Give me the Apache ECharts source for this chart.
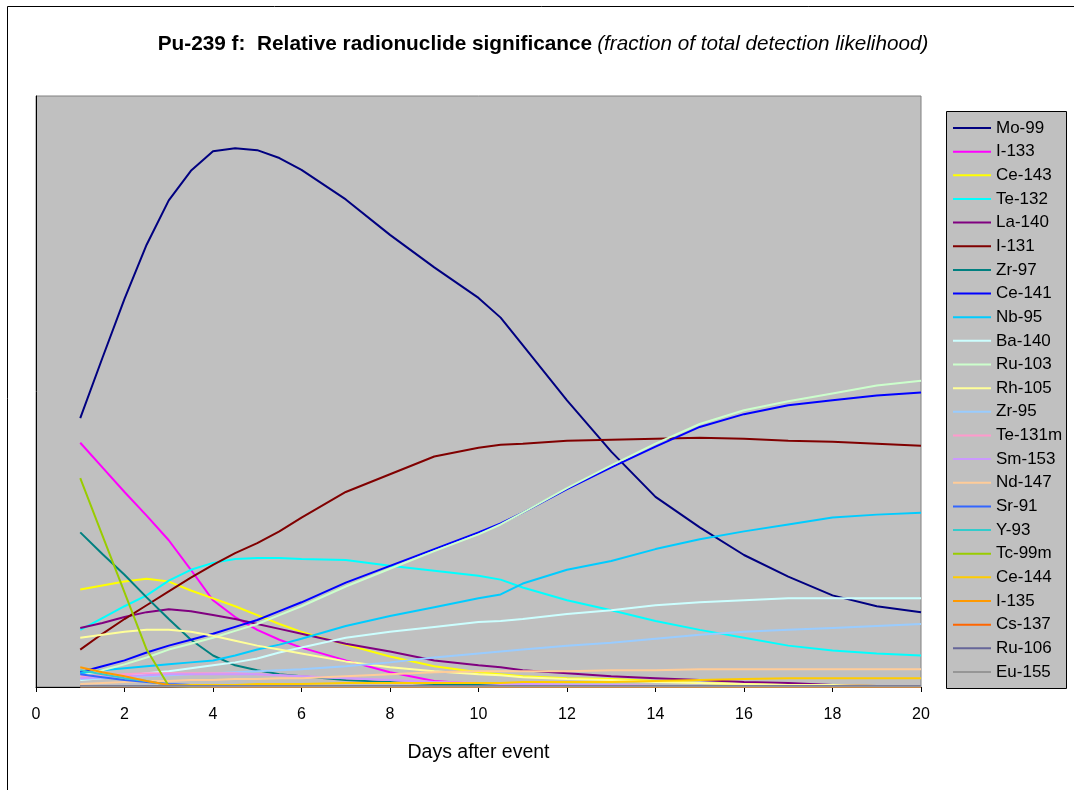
<!DOCTYPE html>
<html><head><meta charset="utf-8">
<script src="https://cdn.jsdelivr.net/npm/echarts@6/dist/echarts.min.js"></script>
<style>html,body{margin:0;padding:0;background:#fff}#c{width:1074px;height:790px}</style>
</head><body><div id="c"></div>
<script>
const DAYS = [1,1.5,2,2.5,3,3.5,4,4.5,5,5.5,6,7,8,9,10,10.5,11,12,13,14,15,16,17,18,19,20];
const X_TICKS = [0,2,4,6,8,10,12,14,16,18,20];
const NAMES = ['Mo-99','I-133','Ce-143','Te-132','La-140','I-131','Zr-97','Ce-141','Nb-95','Ba-140','Ru-103','Rh-105','Zr-95','Te-131m','Sm-153','Nd-147','Sr-91','Y-93','Tc-99m','Ce-144','I-135','Cs-137','Ru-106','Eu-155'];
const mo99 = [0.273,0.334,0.394,0.449,0.494,0.524,0.544,0.547,0.545,0.537,0.525,0.495,0.459,0.426,0.395,0.375,0.347,0.291,0.239,0.193,0.162,0.134,0.112,0.093,0.082,0.076];
const i133 = [0.248,0.223,0.198,0.174,0.149,0.119,0.088,0.071,0.058,0.048,0.040,0.027,0.015,0.006,0.003,0.003,0.002,0.002,0.001,0.001,0.001,0.001,0.001,0.001,0.001,0.001];
const ce143 = [0.099,0.103,0.107,0.110,0.107,0.098,0.090,0.082,0.073,0.064,0.056,0.043,0.031,0.021,0.015,0.013,0.011,0.009,0.008,0.006,0.004,0.003,0.002,0.002,0.001,0.001];
const te132 = [0.058,0.070,0.082,0.093,0.108,0.119,0.126,0.130,0.131,0.131,0.130,0.129,0.123,0.118,0.113,0.109,0.101,0.088,0.078,0.067,0.058,0.050,0.042,0.037,0.034,0.032];
const la140 = [0.060,0.065,0.071,0.076,0.079,0.077,0.073,0.069,0.064,0.059,0.054,0.044,0.036,0.027,0.022,0.020,0.017,0.014,0.011,0.009,0.007,0.005,0.004,0.002,0.001,0.001];
const i131 = [0.038,0.054,0.069,0.083,0.097,0.111,0.124,0.136,0.146,0.158,0.172,0.198,0.216,0.234,0.243,0.246,0.247,0.250,0.251,0.252,0.253,0.252,0.250,0.249,0.247,0.245];
const zr97 = [0.157,0.135,0.114,0.091,0.069,0.048,0.032,0.022,0.017,0.013,0.011,0.007,0.005,0.003,0.002,0.002,0.001,0.001,0.001,0.001,0.001,0.001,0.001,0.001,0.001,0.001];
const ce141 = [0.015,0.021,0.027,0.035,0.042,0.048,0.054,0.061,0.068,0.077,0.086,0.106,0.123,0.140,0.157,0.166,0.177,0.201,0.223,0.244,0.264,0.277,0.286,0.291,0.296,0.299];
const nb95 = [0.014,0.017,0.019,0.021,0.023,0.025,0.027,0.032,0.038,0.043,0.049,0.062,0.072,0.081,0.090,0.094,0.105,0.119,0.128,0.140,0.150,0.158,0.165,0.172,0.175,0.177];
const ba140 = [0.007,0.009,0.011,0.014,0.016,0.019,0.022,0.025,0.029,0.035,0.040,0.050,0.056,0.061,0.066,0.067,0.069,0.074,0.078,0.083,0.086,0.088,0.090,0.090,0.090,0.090];
const ru103 = [0.011,0.017,0.023,0.030,0.038,0.044,0.050,0.057,0.064,0.073,0.082,0.102,0.120,0.138,0.155,0.165,0.177,0.202,0.225,0.247,0.267,0.281,0.290,0.298,0.306,0.311];
const rh105 = [0.050,0.053,0.056,0.058,0.058,0.056,0.052,0.047,0.042,0.038,0.034,0.026,0.020,0.016,0.013,0.012,0.010,0.008,0.007,0.005,0.004,0.003,0.002,0.002,0.001,0.001];
const zr95 = [0.008,0.009,0.010,0.011,0.012,0.013,0.014,0.015,0.016,0.017,0.018,0.021,0.025,0.030,0.034,0.036,0.038,0.042,0.045,0.049,0.053,0.056,0.058,0.060,0.062,0.064];
const te131m = [0.011,0.012,0.013,0.014,0.014,0.014,0.014,0.014,0.013,0.012,0.011,0.009,0.007,0.005,0.004,0.004,0.003,0.002,0.002,0.001,0.001,0.001,0.001,0.001,0.001,0.001];
const sm153 = [0.009,0.010,0.011,0.012,0.013,0.013,0.013,0.013,0.013,0.012,0.011,0.009,0.007,0.005,0.004,0.003,0.003,0.002,0.002,0.001,0.001,0.001,0.001,0.001,0.001,0.001];
const nd147 = [0.003,0.004,0.005,0.006,0.006,0.007,0.007,0.008,0.008,0.009,0.009,0.011,0.013,0.015,0.016,0.016,0.016,0.016,0.017,0.017,0.018,0.018,0.018,0.018,0.018,0.018];
const sr91 = [0.013,0.010,0.007,0.005,0.003,0.002,0.001,0,0,0,0,0,0,0,0,0,0,0,0,0,0,0,0,0,0,0];
const y93 = [0.017,0.013,0.009,0.006,0.002,0.001,0,0,0,0,0,0,0,0,0,0,0,0,0,0,0,0,0,0,0,0];
const tc99m = [0.212,0.154,0.096,0.038,0.001,0,0,0,0,0,0,0,0,0,0,0,0,0,0,0,0,0,0,0,0,0];
const ce144 = [0.001,0.001,0.001,0.001,0.001,0.002,0.002,0.002,0.003,0.003,0.003,0.004,0.004,0.004,0.004,0.004,0.005,0.005,0.005,0.006,0.007,0.008,0.009,0.009,0.009,0.009];
const i135 = [0.020,0.015,0.011,0.006,0.002,0.001,0,0,0,0,0,0,0,0,0,0,0,0,0,0,0,0,0,0,0,0];
const cs137 = [0.0005,0.0005,0.0005,0.0005,0.0005,0.0005,0.0005,0.0005,0.0005,0.0005,0.0005,0.0005,0.0005,0.0005,0.0005,0.0005,0.0005,0.0005,0.0005,0.0005,0.0005,0.0005,0.0005,0.0005,0.0005,0.0005];
const ru106 = [0.001,0.001,0.001,0.001,0.001,0.001,0.001,0.001,0.001,0.001,0.001,0.001,0.001,0.001,0.001,0.001,0.001,0.001,0.001,0.001,0.001,0.001,0.001,0.001,0.001,0.001];
const eu155 = [0.0005,0.0005,0.0005,0.0005,0.0005,0.0005,0.0005,0.0005,0.0005,0.0005,0.0005,0.0005,0.0005,0.0005,0.0005,0.0005,0.0005,0.0005,0.0005,0.0005,0.0005,0.0005,0.0005,0.0005,0.0005,0.0005];
const VALUES = [mo99,i133,ce143,te132,la140,i131,zr97,ce141,nb95,ba140,ru103,rh105,zr95,te131m,sm153,nd147,sr91,y93,tc99m,ce144,i135,cs137,ru106,eu155];
const COLORS = ['#000080','#FF00FF','#FFFF00','#00FFFF','#800080','#800000','#008080','#0000FF','#00CCFF','#CCFFFF','#CCFFCC','#FFFF99','#99CCFF','#FF99CC','#CC99FF','#FFCC99','#3366FF','#33CCCC','#99CC00','#FFCC00','#FF9900','#FF6600','#666699','#969696'];

const FONT = '"Liberation Sans", Arial, sans-serif';
const chart = echarts.init(document.getElementById('c'), null, {renderer: 'canvas'});
const series = NAMES.map((n, k) => ({
  name: n, type: 'line', symbol: 'none', smooth: false,
  data: DAYS.map((d, i) => [d, VALUES[k][i]]),
  lineStyle: {color: COLORS[k], width: 2},
  itemStyle: {color: COLORS[k]},
  emphasis: {disabled: true}
}));
chart.setOption({
  animation: false,
  backgroundColor: '#ffffff',
  title: {
    text: '{b|Pu-239 f:  Relative radionuclide significance} {i|(fraction of total detection likelihood)}',
    left: 538, top: 29, textAlign: 'center',
    textStyle: {
      rich: {
        b: {fontFamily: FONT, fontSize: 20.8, fontWeight: 'bold', color: '#000'},
        i: {fontFamily: FONT, fontSize: 20.7, fontWeight: 'normal', fontStyle: 'italic', color: '#000'}
      }
    }
  },
  graphic: [
    {type: 'rect', shape: {x: 7.5, y: 6.5, width: 1200, height: 1000}, style: {fill: 'none', stroke: '#000', lineWidth: 1}, z: -10},
    {type: 'rect', shape: {x: 946.5, y: 111.5, width: 120, height: 577}, style: {fill: '#C0C0C0', stroke: '#000', lineWidth: 1}, z: 0}
  ],
  grid: {left: 36, top: 96, right: 153, bottom: 103, show: true, backgroundColor: '#C0C0C0', borderColor: '#808080', borderWidth: 1, containLabel: false},
  xAxis: {
    type: 'value', min: 0, max: 20, interval: 2,
    axisLine: {show: true, onZero: false, lineStyle: {color: '#000', width: 1}},
    axisTick: {show: true, inside: false, length: 5, lineStyle: {color: '#000'}},
    axisLabel: {fontFamily: FONT, fontSize: 16, color: '#000', margin: 20, customValues: X_TICKS},
    splitLine: {show: false},
    name: 'Days after event', nameLocation: 'middle', nameGap: 56,
    nameTextStyle: {fontFamily: FONT, fontSize: 19.5, color: '#000'}
  },
  yAxis: {
    type: 'value', min: 0, max: 0.6,
    axisLine: {show: true, lineStyle: {color: '#000', width: 1}},
    axisTick: {show: false}, axisLabel: {show: false}, splitLine: {show: false}
  },
  legend: {
    orient: 'vertical', left: 953, top: 119.5, padding: 0,
    icon: 'rect', itemWidth: 38, itemHeight: 2, itemGap: 6.65,
    textStyle: {fontFamily: FONT, fontSize: 17, color: '#000', lineHeight: 17},
    data: NAMES, selectedMode: false
  },
  series: series
});
</script></body></html>
